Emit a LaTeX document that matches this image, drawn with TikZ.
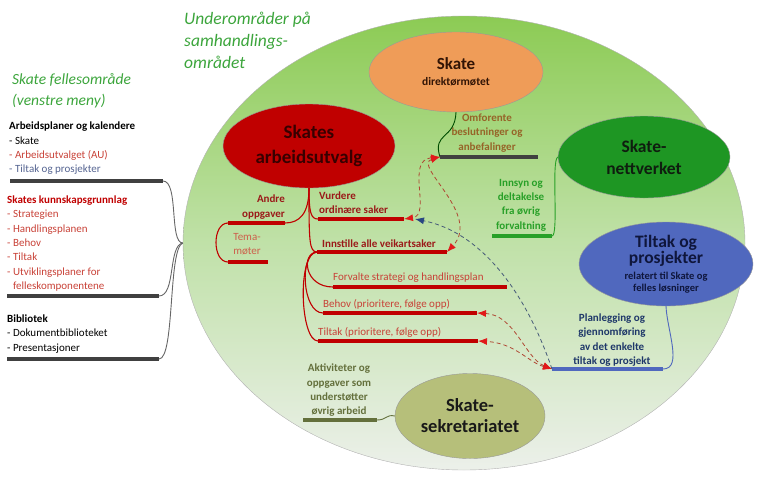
\documentclass[tikz,border=0pt]{standalone}
\usepackage{fontspec}
\setmainfont{Carlito}
\usepackage{tikz}
\usetikzlibrary{shapes.geometric, arrows.meta, positioning}

\definecolor{areatop}{RGB}{140,203,84}
\definecolor{areamid}{RGB}{192,225,168}
\definecolor{areabot}{RGB}{236,240,234}
\definecolor{dmorange}{RGB}{239,156,88}
\definecolor{aured}{RGB}{192,0,0}
\definecolor{nvgreen}{RGB}{30,150,35}
\definecolor{tpblue}{RGB}{80,104,190}
\definecolor{skolive}{RGB}{182,191,122}
\definecolor{titlegreen}{RGB}{60,165,60}
\definecolor{darkred}{RGB}{155,25,25}
\definecolor{softred}{RGB}{200,65,55}
\definecolor{temared}{RGB}{205,95,75}
\definecolor{lefttp}{RGB}{85,100,145}
\definecolor{omfbrown}{RGB}{150,100,40}
\definecolor{innsgreen}{RGB}{40,160,40}
\definecolor{plannavy}{RGB}{30,55,105}
\definecolor{aktolive}{RGB}{100,112,60}
\definecolor{ulgray}{RGB}{64,64,64}
\definecolor{dashred}{RGB}{175,70,50}
\definecolor{arrowred}{RGB}{225,25,25}
\definecolor{dashblue}{RGB}{70,90,120}
\definecolor{arrowblue}{RGB}{40,70,130}

\begin{document}
\begin{tikzpicture}[x=1pt, y=-1pt]
\tikzstyle{area} = [ellipse, draw=gray!60, top color=areatop, bottom color=areabot, middle color=areamid, minimum width=562pt, minimum height=454pt]
\tikzstyle{unit} = [ellipse, draw=black!40, inner sep=0pt, align=center, font=\bfseries]
\tikzstyle{lbl} = [inner sep=0pt, align=center, font=\fontsize{11}{14.3}\selectfont]
\tikzstyle{blbl} = [inner sep=0pt, align=center, font=\fontsize{11}{14.3}\selectfont\bfseries]
\tikzstyle{maintitle} = [inner sep=0pt, align=left, text=titlegreen, font=\fontsize{17.5}{22}\selectfont\itshape]
\tikzstyle{uline} = [line width=3.5pt]
\tikzstyle{link} = [draw, line width=0.9pt]
\tikzstyle{redlink} = [draw, line width=1.1pt, aured]
\tikzstyle{reddash} = [draw, dashred, line width=0.8pt, dash pattern=on 4pt off 3pt, {Latex[length=9pt,width=7pt,color=arrowred]}-{Latex[length=9pt,width=7pt,color=arrowred]}]
\tikzstyle{bluedash} = [draw, dashblue, line width=0.8pt, dash pattern=on 4pt off 3pt, -{Latex[length=9pt,width=7pt,color=arrowblue]}]

\useasboundingbox (0,0) rectangle (768,477);

\node[area] (omr) at (464,243) {};

\node[maintitle, anchor=west] (undertitle) at (184,40) {Underområder på\\samhandlings-\\området};
\node[maintitle, anchor=west, font=\fontsize{15.5}{21}\selectfont\itshape] (felles) at (12,90.5) {Skate fellesområde\\(venstre meny)};

\node[lbl, align=left, anchor=west] (planer) at (9,148.5) {\textbf{Arbeidsplaner og kalendere}\\- Skate\\\textcolor{softred}{- Arbeidsutvalget (AU)}\\\textcolor{lefttp}{- Tiltak og prosjekter}};
\node[lbl, align=left, anchor=west, text=softred] (kunnskap) at (7,243.5) {\textcolor{aured}{\textbf{Skates kunnskapsgrunnlag}}\\- Strategien\\- Handlingsplanen\\- Behov\\- Tiltak\\- Utviklingsplaner for\\\phantom{- }felleskomponentene};
\node[lbl, align=left, anchor=west] (bibliotek) at (7,334) {\textbf{Bibliotek}\\- Dokumentbiblioteket\\- Presentasjoner};

\coordinate (planerL) at (10,181);
\coordinate (planerR) at (163,181);
\coordinate (kunnL) at (7,296);
\coordinate (kunnR) at (159,296);
\coordinate (bibL) at (7,359);
\coordinate (bibR) at (159,359);

\draw[link, gray!80!black] (planerR) .. controls (179,181) and (169,243) .. (omr.west);
\draw[link, gray!80!black] (kunnR) .. controls (176,296) and (168,245) .. (omr.west);
\draw[link, gray!80!black] (bibR) .. controls (175,359) and (168,248) .. (omr.west);
\draw[uline, ulgray] (planerL) -- (planerR);
\draw[uline, ulgray] (kunnL) -- (kunnR);
\draw[uline, ulgray] (bibL) -- (bibR);

\node[unit, fill=dmorange, text={rgb,255:red,50;green,20;blue,5}, minimum width=174pt, minimum height=80pt] (dm) at (456,72) {{\fontsize{17}{20}\selectfont Skate}\\[4pt]{\fontsize{11.5}{14}\selectfont direktørmøtet}};
\node[unit, fill=aured, text={rgb,255:red,55;green,0;blue,0}, minimum width=172pt, minimum height=84pt, font=\fontsize{19}{25}\selectfont\bfseries] (au) at (309,146) {Skates\\arbeidsutvalg};
\node[unit, fill=nvgreen, text={rgb,255:red,15;green,30;blue,15}, minimum width=172pt, minimum height=82pt, font=\fontsize{17.5}{22}\selectfont\bfseries] (nv) at (644,157) {Skate-\\nettverket};
\node[unit, fill=tpblue, text={rgb,255:red,15;green,22;blue,60}, minimum width=174pt, minimum height=84pt] (tp) at (666,264) {{\fontsize{17.5}{24}\selectfont Tiltak og}\\{\fontsize{17.5}{22}\selectfont prosjekter}\\[4pt]{\fontsize{10.5}{16}\selectfont relatert til Skate og}\\{\fontsize{10.5}{16}\selectfont felles løsninger}};
\node[unit, fill=skolive, text=black!90, minimum width=150pt, minimum height=85pt, font=\fontsize{18.5}{21}\selectfont\bfseries] (sk) at (470,416) {Skate-\\sekretariatet};

\coordinate (andreL) at (228,223);
\coordinate (andreR) at (285,223);
\coordinate (temaL) at (228,262);
\coordinate (temaR) at (268,262);
\coordinate (vurdL) at (318,219);
\coordinate (vurdR) at (404,219);
\coordinate (vurdB) at (415,219);
\coordinate (innL) at (317,252);
\coordinate (innR) at (447,252);
\coordinate (forvL) at (333,287);
\coordinate (forvR) at (507,287);
\coordinate (behovL) at (323,313);
\coordinate (behovR) at (477,313);
\coordinate (tiltakL) at (318,341);
\coordinate (tiltakR) at (478,341);
\coordinate (omfL) at (440,157);
\coordinate (omfR) at (538,157);
\coordinate (innsL) at (492,236);
\coordinate (innsR) at (552,236);
\coordinate (planL) at (552,369);
\coordinate (planR) at (663,369);
\coordinate (aktL) at (303,420);
\coordinate (aktR) at (377,420);

\node[blbl, align=right, anchor=east, text=darkred] (andre) at (285,207) {Andre\\oppgaver};
\node[lbl, text=temared] (tema) at (247,244.5) {Tema-\\møter};
\node[blbl, align=left, anchor=west, text=darkred] (vurdere) at (319,202.5) {Vurdere\\ordinære saker};
\node[blbl, anchor=west, text=darkred] (innstille) at (322,244) {Innstille alle veikartsaker};
\node[lbl, anchor=west, text=softred] (forvalte) at (333,278) {Forvalte strategi og handlingsplan};
\node[lbl, anchor=west, text=softred] (behov) at (323,304) {Behov (prioritere, følge opp)};
\node[lbl, anchor=west, text=softred] (tiltak) at (318,332) {Tiltak (prioritere, følge opp)};
\node[blbl, text=omfbrown] (omforente) at (487,133) {Omforente\\beslutninger og\\anbefalinger};
\node[blbl, text=innsgreen] (innsyn) at (521,205) {Innsyn og\\deltakelse\\fra øvrig\\forvaltning};
\node[blbl, text=plannavy] (planlegging) at (612,340) {Planlegging og\\gjennomføring\\av det enkelte\\tiltak og prosjekt};
\node[blbl, text=aktolive] (aktiviteter) at (339,390.5) {Aktiviteter og\\oppgaver som\\understøtter\\øvrig arbeid};

\draw[redlink] (au.south) .. controls (309,213) and (300,223) .. (andreR);
\draw[redlink] (andreL) .. controls (212,223) and (212,262) .. (temaL);
\draw[redlink] (au.south) .. controls (309,213) and (311,219) .. (vurdL);
\draw[redlink] (au.south) .. controls (309,240) and (309,252) .. (innL);
\draw[redlink] (innL) .. controls (301,253) and (304,287) .. (forvL);
\draw[redlink] (innL) .. controls (299,253) and (302,313) .. (behovL);
\draw[redlink] (innL) .. controls (297,253) and (300,341) .. (tiltakL);
\draw[link, green!30!black] (dm.south) .. controls (455,140) and (432,132) .. (omfL);
\draw[link, innsgreen] (innsR) .. controls (559,236) and (551,160) .. (nv.west);
\draw[link, tpblue] (planR) .. controls (683,369) and (667,330) .. (tp.south);
\draw[link, aktolive] (aktR) .. controls (387,420) and (386,414) .. (sk.west);

\draw[uline, aured] (andreL) -- (andreR);
\draw[uline, aured] (temaL) -- (temaR);
\draw[uline, aured] (vurdL) -- (vurdR);
\draw[uline, aured] (innL) -- (innR);
\draw[uline, aured] (forvL) -- (forvR);
\draw[uline, aured] (behovL) -- (behovR);
\draw[uline, aured] (tiltakL) -- (tiltakR);
\draw[uline, ulgray] (omfL) -- (omfR);
\draw[uline, innsgreen] (innsL) -- (innsR);
\draw[uline, tpblue] (planL) -- (planR);
\draw[uline, aktolive] (aktL) -- (aktR);

\draw[reddash] (omfL) .. controls (405,160) and (432,215) .. (vurdR);
\draw[reddash] (omfL) .. controls (412,165) and (482,215) .. (innR);
\draw[reddash] (planL) .. controls (525,358) and (515,315) .. (behovR);
\draw[reddash] (planL) .. controls (528,362) and (515,343) .. (tiltakR);
\draw[bluedash] (planL) .. controls (525,290) and (480,232) .. (vurdB);

\end{tikzpicture}
\end{document}
